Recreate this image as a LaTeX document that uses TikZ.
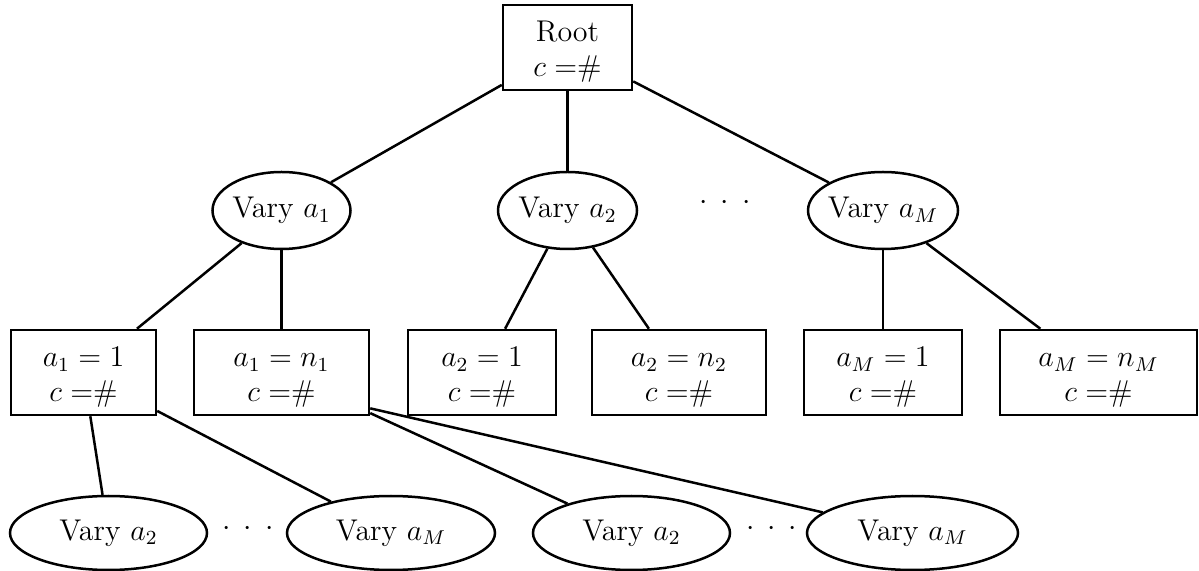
\documentclass[tikz,border=0pt]{standalone}
\usetikzlibrary{shapes.geometric}
\begin{document}
\begin{tikzpicture}[x=0.4pt,y=-0.4pt,
  every node/.style={font=\fontsize{12}{14}\selectfont},
  rootbox/.style={draw, rectangle, line width=1pt, inner sep=0pt, minimum height=34pt, align=center},
  valbox/.style={draw, rectangle, line width=1pt, inner sep=0pt, minimum height=34pt, align=center},
  vary/.style={draw, ellipse, line width=1pt, inner sep=0pt, inner xsep=-1pt, minimum height=30.8pt},
  varylow/.style={draw, ellipse, line width=1pt, inner sep=0pt, minimum height=29.6pt},
  dotsnode/.style={anchor=base, inner sep=0pt},
  conn/.style={line width=1pt}]
\useasboundingbox (0,0) rectangle (1199,571);

\node[rootbox, minimum width=51.6pt] (root) at (567.5,47.5) {\rule{0pt}{11.7pt}Root\\$c =$\#};

\node[vary, minimum width=55.2pt] (v1) at (281.5,210.5) {Vary $a_1$};
\node[vary, minimum width=55.6pt] (v2) at (567.5,210.5) {Vary $a_2$};
\node[vary, minimum width=60pt] (vM) at (883,210.5) {Vary $a_M$};
\node[dotsnode] (d1) at (725,209.5) {${\cdot}\kern5.2pt{\cdot}\kern5.2pt{\cdot}$};

\node[valbox, minimum width=58pt] (b1) at (83.5,372.5) {\rule{0pt}{11.7pt}$a_1 = 1$\\$c =$\#};
\node[valbox, minimum width=70pt] (b2) at (281.5,372.5) {\rule{0pt}{11.7pt}$a_1 = n_1$\\$c =$\#};
\node[valbox, minimum width=59.2pt] (b3) at (482,372.5) {\rule{0pt}{11.7pt}$a_2 = 1$\\$c =$\#};
\node[valbox, minimum width=69.6pt] (b4) at (679,372.5) {\rule{0pt}{11.7pt}$a_2 = n_2$\\$c =$\#};
\node[valbox, minimum width=63.2pt] (b5) at (883,372.5) {\rule{0pt}{11.7pt}$a_M = 1$\\$c =$\#};
\node[valbox, minimum width=78.8pt] (b6) at (1098.5,372.5) {\rule{0pt}{11.7pt}$a_M = n_M$\\$c =$\#};

\node[varylow, minimum width=78.8pt] (e1) at (108.5,533) {Vary $a_2$};
\node[varylow, minimum width=83.2pt] (e2) at (391,533) {Vary $a_M$};
\node[varylow, minimum width=78.8pt] (e3) at (631.5,533) {Vary $a_2$};
\node[varylow, minimum width=84.4pt] (e4) at (912.5,533) {Vary $a_M$};
\node[dotsnode] (d2) at (248,535.5) {${\cdot}\kern5.2pt{\cdot}\kern5.2pt{\cdot}$};
\node[dotsnode] (d3) at (771.5,535.5) {${\cdot}\kern5.2pt{\cdot}\kern5.2pt{\cdot}$};

\draw[conn] (root) -- (v1);
\draw[conn] (root) -- (v2);
\draw[conn] (root) -- (vM);
\draw[conn] (v1) -- (b1);
\draw[conn] (v1) -- (b2);
\draw[conn] (v2) -- (b3);
\draw[conn] (v2) -- (b4);
\draw[conn] (vM) -- (b5);
\draw[conn] (vM) -- (b6);
\draw[conn] (b1) -- (e1);
\draw[conn] (b1) -- (e2);
\draw[conn] (b2) -- (e3);
\draw[conn] (b2.-22) -- (e4);
\end{tikzpicture}
\end{document}
